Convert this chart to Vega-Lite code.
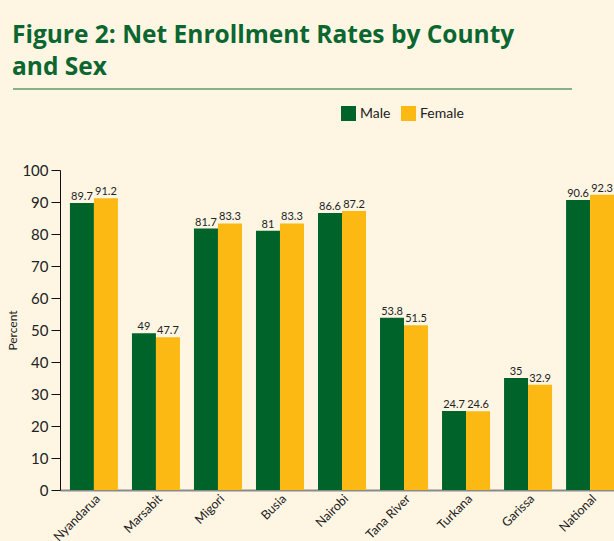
{
  "$schema": "https://vega.github.io/schema/vega-lite/v6.json",
  "autosize": "none",
  "width": 564,
  "height": 320,
  "padding": {"left": 60, "top": 170, "right": 0, "bottom": 51},
  "background": "#fef6e3",
  "title": {
    "text": ["Figure 2: Net Enrollment Rates by County", "and Sex"],
    "anchor": "start",
    "frame": "group",
    "dx": -48,
    "offset": 8,
    "font": "Open Sans",
    "fontSize": 24.5,
    "fontWeight": "bold",
    "color": "#0b6630",
    "lineHeight": 32
  },
  "config": {
    "view": {"stroke": null},
    "font": "Lato"
  },
  "data": {
    "values": [
      {"county": "Nyandarua", "sex": "Male", "value": 89.7},
      {"county": "Nyandarua", "sex": "Female", "value": 91.2},
      {"county": "Marsabit", "sex": "Male", "value": 49},
      {"county": "Marsabit", "sex": "Female", "value": 47.7},
      {"county": "Migori", "sex": "Male", "value": 81.7},
      {"county": "Migori", "sex": "Female", "value": 83.3},
      {"county": "Busia", "sex": "Male", "value": 81},
      {"county": "Busia", "sex": "Female", "value": 83.3},
      {"county": "Nairobi", "sex": "Male", "value": 86.6},
      {"county": "Nairobi", "sex": "Female", "value": 87.2},
      {"county": "Tana River", "sex": "Male", "value": 53.8},
      {"county": "Tana River", "sex": "Female", "value": 51.5},
      {"county": "Turkana", "sex": "Male", "value": 24.7},
      {"county": "Turkana", "sex": "Female", "value": 24.6},
      {"county": "Garissa", "sex": "Male", "value": 35},
      {"county": "Garissa", "sex": "Female", "value": 32.9},
      {"county": "National", "sex": "Male", "value": 90.6},
      {"county": "National", "sex": "Female", "value": 92.3}
    ]
  },
  "layer": [
    {
      "mark": {"type": "bar"},
      "encoding": {
        "x": {
          "field": "county", "type": "nominal", "sort": null,
          "scale": {"paddingInner": 0.226, "paddingOuter": 0.16},
          "axis": {
            "title": null, "labelAngle": -45, "labelAlign": "right", "labelBaseline": "top",
            "labelFontSize": 12.5, "labelColor": "#222", "ticks": false, "labelPadding": 2,
            "domainColor": "#8a8a8a", "domainWidth": 2
          }
        },
        "y": {
          "field": "value", "type": "quantitative",
          "scale": {"domain": [0, 100], "nice": false},
          "axis": {
            "title": "Percent", "titleFontSize": 12, "titleFontWeight": "normal", "titleColor": "#222",
            "titlePadding": 2,
            "values": [0, 10, 20, 30, 40, 50, 60, 70, 80, 90, 100],
            "grid": false, "labelFontSize": 15, "labelColor": "#222",
            "tickSize": 9, "tickColor": "#111", "domainColor": "#111", "labelPadding": 3
          }
        },
        "xOffset": {"field": "sex", "sort": ["Male", "Female"], "scale": {"paddingInner": 0, "paddingOuter": 0}},
        "color": {
          "field": "sex", "type": "nominal", "sort": ["Male", "Female"],
          "scale": {"domain": ["Male", "Female"], "range": ["#006329", "#fdb913"]},
          "legend": {
            "title": null, "orient": "none", "direction": "horizontal",
            "legendX": 281, "legendY": -64, "symbolType": "square", "symbolSize": 225,
            "symbolStrokeWidth": 0, "labelFontSize": 14, "labelColor": "#222", "columnPadding": 10
          }
        }
      }
    },
    {
      "mark": {"type": "text", "dy": -1, "baseline": "bottom", "fontSize": 11, "color": "#222"},
      "encoding": {
        "x": {
          "field": "county", "type": "nominal", "sort": null,
          "axis": {
            "title": null, "labelAngle": -45, "labelAlign": "right", "labelBaseline": "top",
            "labelFontSize": 12.5, "labelColor": "#222", "ticks": false, "labelPadding": 2,
            "domainColor": "#8a8a8a", "domainWidth": 2
          }
        },
        "y": {
          "field": "value", "type": "quantitative",
          "axis": {
            "title": "Percent", "titleFontSize": 12, "titleFontWeight": "normal", "titleColor": "#222",
            "titlePadding": 2,
            "values": [0, 10, 20, 30, 40, 50, 60, 70, 80, 90, 100],
            "grid": false, "labelFontSize": 15, "labelColor": "#222",
            "tickSize": 9, "tickColor": "#111", "domainColor": "#111", "labelPadding": 3
          }
        },
        "xOffset": {"field": "sex", "sort": ["Male", "Female"]},
        "text": {"field": "value", "type": "quantitative"}
      }
    },
    {
      "data": {"values": [{"label": "title rule"}]},
      "mark": {"type": "rule", "color": "#5e9b6c", "strokeWidth": 1.5},
      "encoding": {
        "x": {"value": -47},
        "x2": {"value": 512},
        "y": {
          "datum": 125.3, "type": "quantitative",
          "axis": {
            "title": "Percent", "titleFontSize": 12, "titleFontWeight": "normal", "titleColor": "#222",
            "titlePadding": 2,
            "values": [0, 10, 20, 30, 40, 50, 60, 70, 80, 90, 100],
            "grid": false, "labelFontSize": 15, "labelColor": "#222",
            "tickSize": 9, "tickColor": "#111", "domainColor": "#111", "labelPadding": 3
          }
        }
      }
    }
  ]
}
